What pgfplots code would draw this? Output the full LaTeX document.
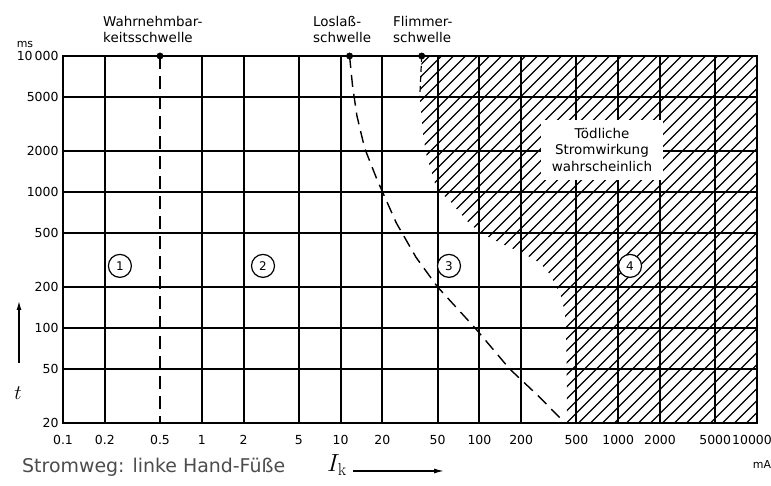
\documentclass[border=0pt]{standalone}
\usepackage{pgfplots}
\pgfplotsset{compat=1.18}
\usepackage[no-math]{fontspec}
\setmainfont{DejaVu Sans}
\usetikzlibrary{arrows.meta}
\begin{document}
\begin{tikzpicture}[x=1bp,y=1bp]
\begin{axis}[
  at={(0,0)}, anchor=south west,
  scale only axis, width=694bp, height=367bp,
  xmode=log, ymode=log,
  xmin=0.1, xmax=10000, ymin=20, ymax=10000,
  xtick={0.1,0.2,1,2,5,10,20,50,100,200,500,1000,2000,5000},
  xticklabels={0.1,0.2,1,2,5,10,20,50,100,200,500,1000,2000,5000},
  extra x ticks={0.5,10000}, extra x tick labels={0.5,\hspace*{-10bp}10000},
  extra x tick style={grid=none},
  ytick={20,50,100,200,500,1000,2000,5000,10000},
  yticklabels={20,50,100,200,500,1000,2000,5000,10\,000},
  xminorticks=false, yminorticks=false,
  grid=major,
  major grid style={black, line width=2bp},
  axis line style={black, line width=2.2bp},
  tick style={draw=none},
  xticklabel style={anchor=center, yshift=-17bp, font=\fontsize{12.5}{12.5}\selectfont},
  yticklabel style={anchor=east, xshift=-1bp, font=\fontsize{12.5}{12.5}\selectfont},
  clip=true,
]
% hatched region 4 (deadly): boundary in data coordinates, hatched by clipping
\begin{scope}
\clip (axis cs:38.4,10000) -- (axis cs:37.2,5000) -- (axis cs:39.6,2483) -- (axis cs:41.5,1875)
   -- (axis cs:46.3,1294) -- (axis cs:50,1000) -- (axis cs:55,950) -- (axis cs:62,850) -- (axis cs:70,730)
   -- (axis cs:84,592) -- (axis cs:102,500) -- (axis cs:130,440) -- (axis cs:157,401) -- (axis cs:200,360)
   -- (axis cs:240,325) -- (axis cs:273,301) -- (axis cs:315,255) -- (axis cs:348,214) -- (axis cs:386,173)
   -- (axis cs:413,130) -- (axis cs:420,100) -- (axis cs:425,50) -- (axis cs:428,20)
   -- (axis cs:10000,20) -- (axis cs:10000,10000) -- cycle;
\pgfplotsinvokeforeach{0,...,75}{
  \draw[black, line width=1.25bp] (rel axis cs:{-0.26+#1*0.01729},0) -- (rel axis cs:{0.2688+#1*0.01729},1);
}
\end{scope}
% Wahrnehmbarkeitsschwelle
\addplot[black, line width=1.6bp, dash pattern=on 13bp off 7bp] coordinates {(0.5,10000) (0.5,20)};
% Loslassschwelle
\addplot[black, line width=1.4bp, dash pattern=on 12bp off 7bp] coordinates {
  (11.6,10000) (12.2,6000) (13.1,3645) (14.9,2100) (18.3,1233) (25.2,592) (35,330) (50,200) (93,100) (165,50) (273,30.8) (413,20)};
% Flimmerschwelle
\addplot[black, line width=1.2bp, dash pattern=on 6bp off 4bp] coordinates {(38.4,10000) (37.2,5000)};
\addplot[only marks, mark=*, mark size=3.2bp, black] coordinates {(0.5,10000) (11.6,10000) (38.4,10000)};
% text box
\node[fill=white, inner xsep=11bp, inner ysep=8bp, align=center, font=\fontsize{13.5}{17}\selectfont]
  at (axis cs:764,2037) {Tödliche\\Stromwirkung\\wahrscheinlich};
% circled region numbers
\foreach \xx/\nn in {0.257/1, 2.76/2, 60.4/3, 1217/4} {
  \edef\tmp{\noexpand\node[draw, circle, line width=1.2bp, fill=white, inner sep=1.5bp, minimum size=23bp, font=\noexpand\fontsize{12}{12}\noexpand\selectfont] at (axis cs:\xx,286) {\nn};}
  \tmp
}
\end{axis}
% labels outside
\node[font=\fontsize{11}{11}\selectfont] at (-38,378) {ms};
\node[font=\fontsize{11}{11}\selectfont] at (699,-42) {mA};
\node[anchor=north west, align=left, font=\fontsize{13.5}{16}\selectfont, inner sep=0pt] at (40,407) {Wahrnehmbar-\\keitsschwelle};
\node[anchor=north west, align=left, font=\fontsize{13.5}{16}\selectfont, inner sep=0pt] at (250,407) {Loslaß-\\schwelle};
\node[anchor=north west, align=left, font=\fontsize{13.5}{16}\selectfont, inner sep=0pt] at (330,407) {Flimmer-\\schwelle};
\node at (-45,30) {\fontsize{22}{22}\selectfont$t$};
\draw[line width=1.3bp, -{Latex[length=9bp,width=5bp]}] (-44,60) -- (-44,122);
\node[anchor=west, inner sep=0pt, text=black!70, font=\fontsize{19}{19}\selectfont] at (-41,-44) {Stromweg: linke Hand-Füße};
\node at (274,-42) {\fontsize{27}{27}\selectfont$I_{\mathrm{k}}$};
\draw[line width=1.3bp, -{Latex[length=10bp,width=5bp]}] (290,-48) -- (381,-48);
\pgfresetboundingbox
\path[use as bounding box] (-63,-63) rectangle (708,423);
\end{tikzpicture}
\end{document}
